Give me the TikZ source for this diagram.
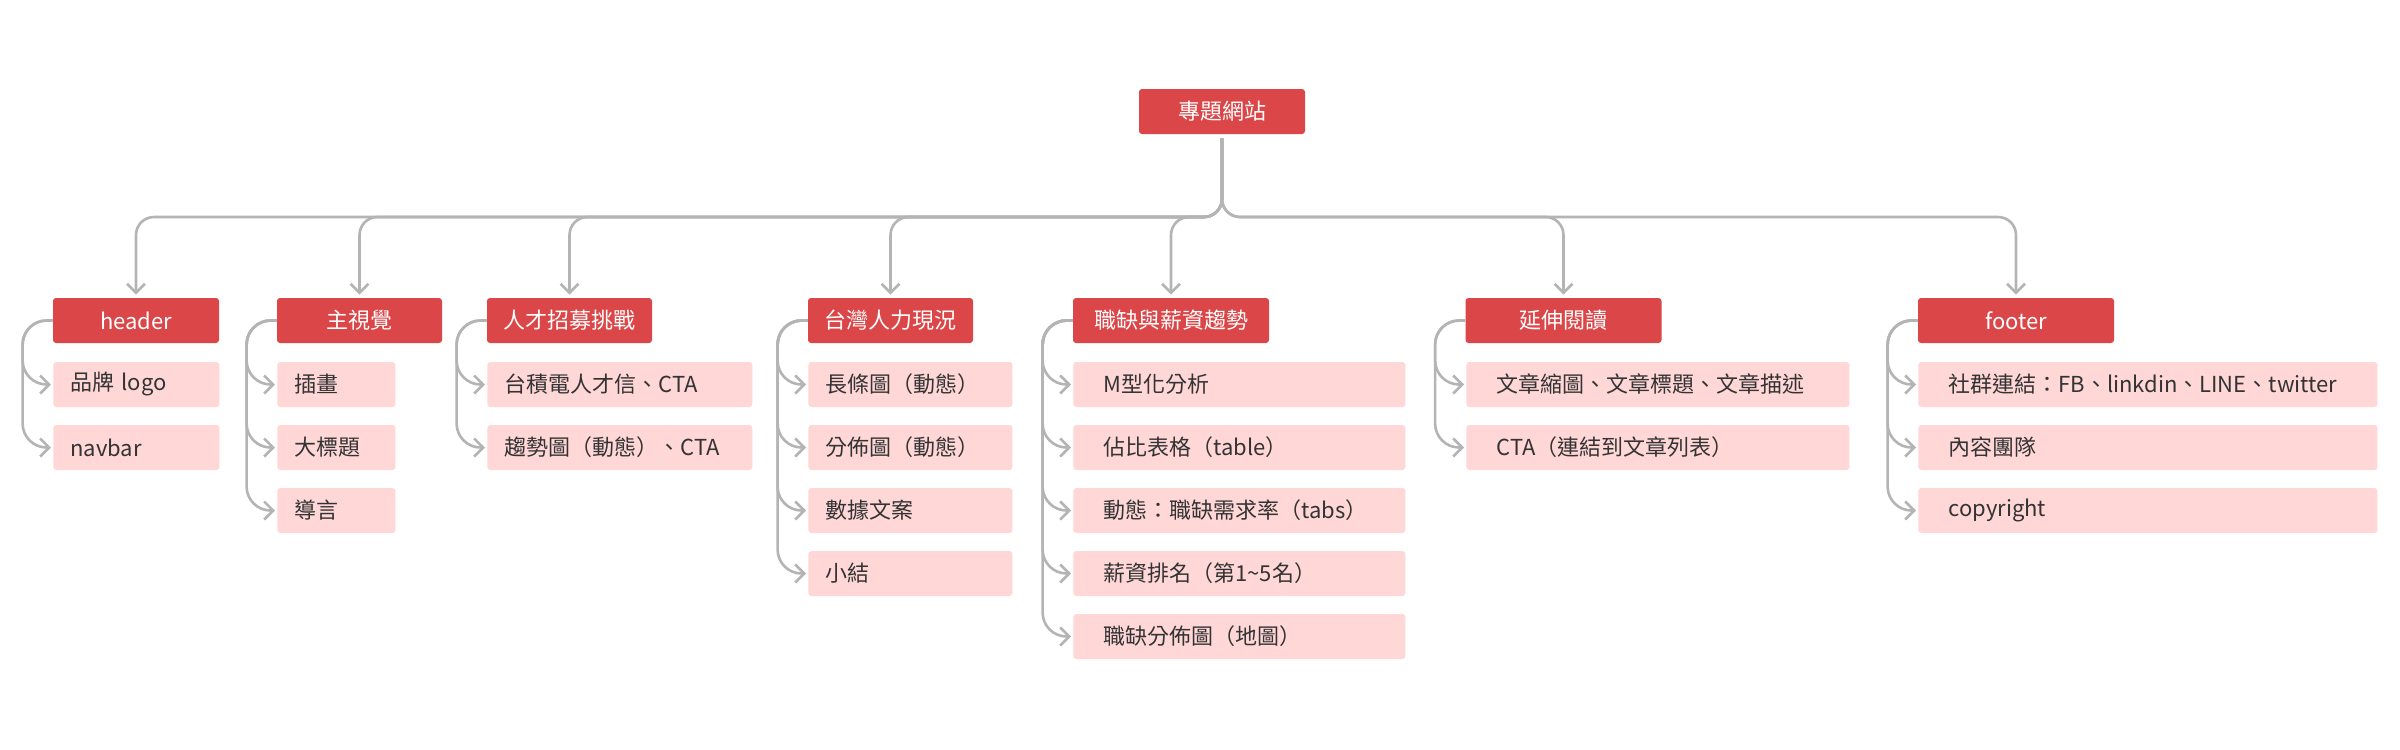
\documentclass[tikz,border=0pt]{standalone}
\usepackage{fontspec}
\setmainfont{Noto Sans CJK TC}
\usetikzlibrary{arrows.meta}
\definecolor{boxred}{RGB}{219,70,72}
\definecolor{boxpink}{RGB}{255,215,215}
\definecolor{linegrey}{RGB}{180,180,180}
\definecolor{txt}{RGB}{51,51,51}
\begin{document}
\begin{tikzpicture}[x=0.5pt,y=-0.5pt,
  topbox/.style={fill=boxred, text=white, rounded corners=1.5pt, minimum height=22.5pt,
    inner sep=0pt, font=\fontsize{11}{13}\selectfont},
  kid/.style 2 args={fill=boxpink, text=txt, rounded corners=1.5pt, minimum height=22.5pt,
    inner ysep=0pt, inner xsep=#1pt, text width=#2pt, align=left, anchor=west,
    font=\fontsize{11}{13}\selectfont},
  edge/.style={draw=linegrey, line width=1.3pt, -{Straight Barb[length=4.5pt,width=9pt]}},
  drop/.style={edge, rounded corners=9pt, shorten <=2pt, shorten >=1.5pt},
  brace/.style={edge, rounded corners=12pt, shorten >=1pt}
]
\useasboundingbox (0,0) rectangle (2400,750);
\fill[white] (0,0) rectangle (2400,750);

% root
\node[topbox, minimum width=83pt] (root) at (1222,111.5) {專題網站};
\coordinate (hub) at (1222,217);

% level 1
\node[topbox, minimum width=83pt]   (g1) at (136,320.5) {header};
\node[topbox, minimum width=82.5pt] (g2) at (359.5,320.5) {主視覺};
\node[topbox, minimum width=82.5pt] (g3) at (569.5,320.5) {人才招募挑戰};
\node[topbox, minimum width=82.5pt] (g4) at (890.5,320.5) {台灣人力現況};
\node[topbox, minimum width=98pt]   (g5) at (1171,320.5) {職缺與薪資趨勢};
\node[topbox, minimum width=98pt]   (g6) at (1563.5,320.5) {延伸閱讀};
\node[topbox, minimum width=98pt]   (g7) at (2016,320.5) {footer};

% group 1
\node[kid={8.5}{66}] (a1) at (53,384.5) {品牌 logo};
\node[kid={8.5}{66}] (a2) at (53,447.5) {navbar};
% group 2
\node[kid={8.5}{42}] (b1) at (277,384.5) {插畫};
\node[kid={8.5}{42}] (b2) at (277,447.5) {大標題};
\node[kid={8.5}{42}] (b3) at (277,510.5) {導言};
% group 3
\node[kid={8.5}{115.5}] (c1) at (487,384.5) {台積電人才信、CTA};
\node[kid={8.5}{115.5}] (c2) at (487,447.5) {\mbox{趨勢圖（動態）、CTA}};
% group 4
\node[kid={8.5}{85}] (d1) at (808,384.5) {長條圖（動態）};
\node[kid={8.5}{85}] (d2) at (808,447.5) {分佈圖（動態）};
\node[kid={8.5}{85}] (d3) at (808,510.5) {數據文案};
\node[kid={8.5}{85}] (d4) at (808,573.5) {小結};
% group 5
\node[kid={15}{136}] (e1) at (1073,384.5) {M型化分析};
\node[kid={15}{136}] (e2) at (1073,447.5) {佔比表格（table）};
\node[kid={15}{136}] (e3) at (1073,510.5) {\mbox{動態：職缺需求率（tabs）}};
\node[kid={15}{136}] (e4) at (1073,573.5) {薪資排名（第1\textasciitilde 5名）};
\node[kid={15}{136}] (e5) at (1073,636.5) {職缺分佈圖（地圖）};
% group 6
\node[kid={15}{161.5}] (f1) at (1466,384.5) {\mbox{文章縮圖、文章標題、文章描述}};
\node[kid={15}{161.5}] (f2) at (1466,447.5) {CTA（連結到文章列表）};
% group 7
\node[kid={15}{199.5}] (h1) at (1918,384.5) {\mbox{社群連結：FB、linkdin、LINE、twitter}};
\node[kid={15}{199.5}] (h2) at (1918,447.5) {內容團隊};
\node[kid={15}{199.5}] (h3) at (1918,510.5) {copyright};

% root to level 1
\foreach \g in {g1,g2,g3,g4,g5,g6,g7}
  \draw[drop] (root.south) -- (hub) -- (hub -| \g.north) -- (\g.north);

% brackets
\foreach \p/\k in {g1/a1,g1/a2,g2/b1,g2/b2,g2/b3,g3/c1,g3/c2,
                   g4/d1,g4/d2,g4/d3,g4/d4,
                   g5/e1,g5/e2,g5/e3,g5/e4,g5/e5,
                   g6/f1,g6/f2,g7/h1,g7/h2,g7/h3}
  \draw[brace] (\p.west) -- ++(-30,0) |- (\k.west);
\end{tikzpicture}
\end{document}
